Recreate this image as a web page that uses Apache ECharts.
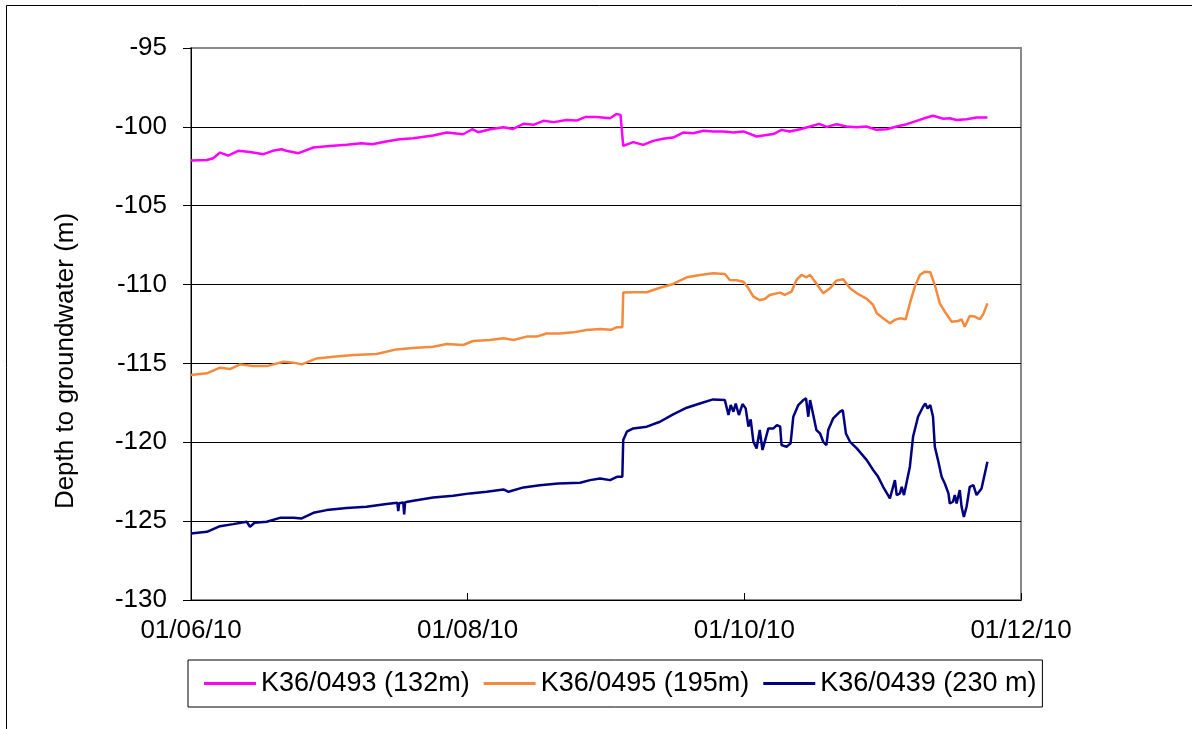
<!DOCTYPE html>
<html>
<head>
<meta charset="utf-8">
<script src="https://cdn.jsdelivr.net/npm/echarts@6/dist/echarts.min.js"></script>
<style>
  html, body { margin: 0; padding: 0; background: #fff; }
  #chart { width: 1192px; height: 729px; }
</style>
</head>
<body>
<div id="chart"></div>
<script>
// x values are days since 01/06/10
const dateLabels = ['01/06/10', '01/08/10', '01/10/10', '01/12/10'];
const seriesNames = ['K36/0493 (132m)', 'K36/0495 (195m)', 'K36/0439 (230 m)'];

const days0493 = [0, 3.5, 4.9, 6.4, 8.2, 10.4, 13, 16, 18, 20, 21, 23.7, 27, 30.6, 34.3, 37.6, 40, 43, 46, 49,
  53.4, 56.4, 60, 62, 63.3, 66, 68.9, 71, 73.3, 75.5, 77.7, 80, 82.8, 85, 86.9, 89.4, 92.4, 93.8, 94.7, 95.1,
  95.3, 97.5, 99.7, 101.9, 104.1, 106.3, 108.5, 110.7, 113, 115.2, 117.4, 119.6, 121.8, 124.7, 126.9, 128.4, 130.2, 132, 134.3, 136.5,
  138.5, 140.2, 142.3, 144.5, 146.7, 148.9, 151.2, 153.4, 155.6, 157.8, 160, 162.2, 163.6, 165.9, 167.3, 168.8, 171, 173.2, 175.6];
const depth0493 = [-102.14, -102.1, -101.99, -101.63, -101.82, -101.52, -101.59, -101.73, -101.52, -101.42,
  -101.52, -101.67, -101.31, -101.21, -101.14, -101.04, -101.1, -100.93, -100.78, -100.72,
  -100.55, -100.36, -100.47, -100.15, -100.34, -100.15, -100.02, -100.13, -99.81, -99.87,
  -99.62, -99.7, -99.56, -99.6, -99.38, -99.38, -99.45, -99.18, -99.24, -99.3,
  -101.21, -100.97, -101.14, -100.89, -100.76, -100.68, -100.36, -100.4, -100.25, -100.29,
  -100.29, -100.36, -100.29, -100.61, -100.51, -100.46, -100.19, -100.29, -100.15, -99.98,
  -99.81, -100.0, -99.83, -99.98, -100.02, -99.98, -100.19, -100.15, -99.98, -99.83,
  -99.62, -99.41, -99.3, -99.49, -99.45, -99.56, -99.52, -99.41, -99.41];

const days0495 = [0, 3.5, 6.4, 8.6, 10.8, 13.7, 16.7, 20.4, 22.6, 24.4, 27.7, 31.4, 35.8, 40.9, 45.3, 48.9, 53.4, 56.4, 60, 62.2,
  65.9, 68.9, 71.1, 74, 76.2, 78.4, 81.3, 84.3, 87.2, 90.2, 92.6, 93.8, 95.1, 95.3, 97.5, 100.5, 103.4, 106.3, 109.3, 112.2,
  115.1, 117.7, 118.8, 120.3, 121.8, 122.9, 124, 125.4, 126.5, 127.6, 129.9, 130.9, 132.4, 133.5, 134.6, 135.7, 136.5, 137.6, 139.4, 140.9,
  142.3, 143.8, 145.3, 146.8, 149, 150.4, 151.2, 152.6, 154.1, 155.2, 156.3, 157.6, 158.5, 159.6, 160.7, 161.8, 163, 164, 165.1, 166.2,
  167.7, 169.1, 169.9, 170.6, 171.7, 172.8, 173.9, 174.7, 175.6];
const depth0495 = [-115.74, -115.63, -115.27, -115.36, -115.06, -115.17, -115.17, -114.89, -114.95, -115.06,
  -114.68, -114.57, -114.47, -114.4, -114.11, -114.02, -113.94, -113.77, -113.83, -113.58,
  -113.51, -113.41, -113.51, -113.3, -113.3, -113.1, -113.1, -113.03, -112.88, -112.82,
  -112.87, -112.71, -112.7, -110.5, -110.49, -110.49, -110.2, -109.96, -109.54, -109.39,
  -109.28, -109.33, -109.71, -109.73, -109.82, -110.24, -110.77, -110.98, -110.92, -110.66,
  -110.51, -110.66, -110.45, -109.71, -109.39, -109.54, -109.39, -109.82, -110.55, -110.24,
  -109.75, -109.66, -110.24, -110.55, -110.91, -111.29, -111.82, -112.14, -112.46, -112.24,
  -112.14, -112.2, -111.19, -110.13, -109.39, -109.18, -109.22, -110.03, -111.19, -111.72,
  -112.35, -112.31, -112.2, -112.67, -111.99, -112.03, -112.2, -111.86, -111.19];

const days0439 = [0, 3.5, 6.4, 9.3, 12.3, 13, 14, 16.7, 19.6, 22.6, 24.4, 27, 29.9, 34.3, 38.7, 43.1, 45.5, 45.7, 45.9, 46.8,
  47, 47.2, 49, 53.4, 57.8, 61.5, 65.2, 68.9, 70, 73.3, 76.9, 81, 85.8, 88, 90.2, 92.4, 93.9, 95.1, 95.3, 96.1,
  97.5, 100.5, 103.4, 106.3, 109.3, 112.2, 115.1, 117.7, 118.5, 119, 119.6, 120.1, 120.8, 121.6, 122.3, 122.9, 123.4, 124, 124.7, 125.4,
  126, 126.5, 127.3, 128.4, 129.2, 129.9, 130.2, 131.3, 132.2, 132.8, 133.9, 135, 135.6, 136.1, 136.5, 137.2, 137.9, 138.7, 139.4, 140.1,
  140.5, 141.6, 143.1, 143.7, 144.4, 145.3, 146.8, 149, 150.4, 151.5, 152.6, 154.1, 155.2, 155.6, 156.3, 156.7, 157.2, 157.6, 158.5, 159.2,
  160.3, 161.4, 161.9, 162.4, 163, 163.6, 164, 164.7, 165.5, 166.2, 167, 167.3, 168, 168.4, 168.8, 169.5, 169.9, 170.4, 171, 171.7,
  172.5, 173.2, 174.3, 175.6];
const depth0439 = [-125.78, -125.68, -125.32, -125.19, -125.04, -125.36, -125.1, -125.04, -124.79, -124.79,
  -124.83, -124.47, -124.3, -124.16, -124.09, -123.92, -123.84, -124.37, -123.86, -123.82,
  -124.58, -123.8, -123.71, -123.5, -123.39, -123.24, -123.14, -122.99, -123.14, -122.86,
  -122.72, -122.62, -122.57, -122.4, -122.29, -122.4, -122.19, -122.19, -119.86, -119.33,
  -119.12, -119.01, -118.7, -118.23, -117.81, -117.54, -117.28, -117.32, -118.27, -117.64,
  -118.06, -117.54, -118.27, -117.58, -117.85, -119.01, -118.55, -119.97, -120.39, -119.22,
  -120.49, -119.97, -119.12, -119.12, -118.91, -119.01, -120.18, -120.28, -120.07, -118.38,
  -117.64, -117.32, -117.22, -118.38, -117.32, -118.27, -119.23, -119.44, -119.97, -120.18,
  -119.22, -118.48, -118.06, -117.96, -119.44, -119.97, -120.39, -121.13, -121.76, -122.19,
  -122.82, -123.56, -122.4, -123.35, -123.24, -122.82, -123.35, -123.24, -121.55, -119.65,
  -118.38, -117.75, -117.54, -117.85, -117.64, -118.38, -120.28, -121.13, -122.19, -122.61,
  -123.24, -123.88, -123.77, -123.35, -123.88, -123.03, -124.09, -124.73, -124.09, -122.82,
  -122.71, -123.35, -122.93, -121.23];

const font = "'Liberation Sans', Arial, sans-serif";

function pairs(xs, ys) {
  return xs.map((x, i) => [x, ys[i]]);
}

const chart = echarts.init(document.getElementById('chart'));
chart.setOption({
  animation: false,
  backgroundColor: '#fff',
  color: ['#ff00ff', '#f58a3c', '#000080'],
  graphic: [{
    type: 'rect',
    shape: { x: 6.5, y: 5.5, width: 1400, height: 1000 },
    style: { fill: 'none', stroke: '#000', lineWidth: 1 },
    silent: true
  }],
  grid: {
    left: 191, right: 171, top: 48, bottom: 129,
    show: true, borderColor: '#888', borderWidth: 2
  },
  legend: {
    left: 188, top: 660,
    padding: [10, 6, 10, 16],
    itemGap: 14,
    itemWidth: 52, itemHeight: 3,
    icon: 'rect',
    borderColor: '#000', borderWidth: 1,
    textStyle: { fontFamily: font, fontSize: 27, color: '#000' },
    data: seriesNames
  },
  xAxis: {
    type: 'value',
    min: 0, max: 183, interval: 61,
    axisLine: { lineStyle: { color: '#000', width: 1 } },
    axisTick: { show: true, inside: true, length: 7, lineStyle: { color: '#000' } },
    splitLine: { show: false },
    axisLabel: {
      margin: 18, fontFamily: font, fontSize: 26, color: '#000',
      formatter: v => dateLabels[Math.round(v / 61)]
    }
  },
  yAxis: {
    type: 'value',
    min: -130, max: -95, interval: 5,
    name: 'Depth to groundwater (m)',
    nameLocation: 'middle',
    nameGap: 112,
    nameTextStyle: { fontFamily: font, fontSize: 26, color: '#000', padding: [0, 74, 0, 0] },
    axisLine: { show: true, lineStyle: { color: '#000', width: 1 } },
    axisTick: { show: true, inside: false, length: 8, lineStyle: { color: '#000' } },
    splitLine: {
      show: true,
      lineStyle: { color: ['#000', '#000', '#000', '#000', '#000', '#000', '#000', '#888'], width: 1 }
    },
    axisLabel: { margin: 24, fontFamily: font, fontSize: 26, color: '#000' }
  },
  series: [
    { name: seriesNames[0], type: 'line', showSymbol: false, data: pairs(days0493, depth0493), lineStyle: { width: 2.5 } },
    { name: seriesNames[1], type: 'line', showSymbol: false, data: pairs(days0495, depth0495), lineStyle: { width: 2.5 } },
    { name: seriesNames[2], type: 'line', showSymbol: false, data: pairs(days0439, depth0439), lineStyle: { width: 2.5 } }
  ]
});
</script>
</body>
</html>
